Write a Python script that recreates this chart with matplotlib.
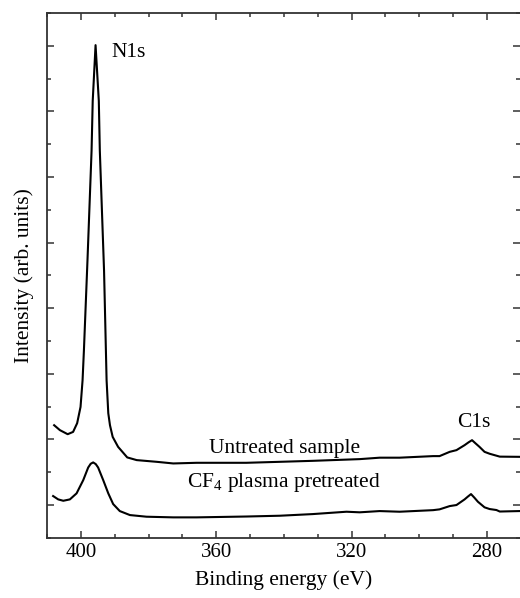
import numpy as np
from matplotlib import pyplot as plt
from matplotlib.ticker import MultipleLocator

plt.rcParams['font.family'] = ['Liberation Serif', 'DejaVu Serif']
plt.rcParams['mathtext.fontset'] = 'custom'
plt.rcParams['mathtext.rm'] = 'Liberation Serif'

# XPS survey spectra (binding energy in eV, intensity in arb. units)
untreatedEnergy = [407.9, 406.2, 403.9, 402.3, 401.1, 400.1, 399.5, 399.1, 398.05, 396.84, 396.5, 395.66,
                   394.7, 394.4, 393.15, 392.4, 391.9, 391.4, 390.6, 389.0, 386.3, 383.5, 377.6, 372.7,
                   365.8, 351.1, 341.2, 331.5, 317.6, 311.7, 305.8, 295.9, 294.0, 291.0, 289.0, 286.6,
                   285.4, 284.4, 283.4, 282.2, 280.7, 279.2, 276.2, 270.4]
untreatedIntensity = [1.715, 1.64, 1.578, 1.613, 1.746, 1.994, 2.40, 2.857, 4.227, 5.9, 6.66, 7.51,
                      6.66, 5.9, 4.07, 2.40, 1.898, 1.715, 1.537, 1.385, 1.224, 1.183, 1.157, 1.132,
                      1.142, 1.142, 1.157, 1.172, 1.198, 1.22, 1.22, 1.244, 1.244, 1.309, 1.335, 1.411,
                      1.455, 1.487, 1.44, 1.385, 1.309, 1.28, 1.236, 1.233]

treatedEnergy = [408.2, 406.7, 405.2, 403.25, 401.27, 399.3, 397.84, 397.1, 396.37, 395.6, 394.9,
                 393.4, 391.9, 390.46, 388.5, 385.5, 380.6, 372.7, 365.8, 351.1, 341.2, 331.5, 321.5,
                 317.6, 311.7, 305.8, 295.9, 294.0, 291.0, 289.0, 286.6, 285.6, 284.7, 283.7, 282.66,
                 280.7, 279.2, 277.2, 276.2, 270.4]
treatedIntensity = [0.635, 0.584, 0.563, 0.584, 0.676, 0.878, 1.07, 1.127, 1.148, 1.122, 1.07,
                    0.878, 0.676, 0.513, 0.406, 0.345, 0.32, 0.31, 0.31, 0.323, 0.335, 0.36, 0.396,
                    0.387, 0.406, 0.396, 0.42, 0.432, 0.482, 0.498, 0.584, 0.628, 0.665, 0.61, 0.548,
                    0.463, 0.437, 0.422, 0.399, 0.406]

xTicks = [400, 360, 320, 280]

fig = plt.figure(figsize=(5.2, 5.98), dpi=100)
ax = fig.add_axes([46.7/520, 60.3/598, 1.0 - 46.7/520 - 0.0005, 524.7/598])

ax.plot(untreatedEnergy, untreatedIntensity, color='black', lw=1.5)
ax.plot(treatedEnergy, treatedIntensity, color='black', lw=1.5)

ax.text(390.9, 7.40, 'N1s', fontsize=15.5, va='center', ha='left')
ax.text(284.0, 1.69, 'C1s', fontsize=15.5, va='baseline', ha='center')
ax.text(339.8, 1.294, 'Untreated sample', fontsize=15.5, va='baseline', ha='center')
ax.text(340.0, 0.776, r'CF$_\mathregular{4}$ plasma pretreated', fontsize=15.5, va='baseline', ha='center')

ax.set_xlim(410.1, 270.3)
ax.set_ylim(0, 8)
ax.set_xticks(xTicks)
ax.xaxis.set_minor_locator(MultipleLocator(10))
ax.set_yticks(np.arange(0.5, 8, 1.0))
ax.yaxis.set_minor_locator(MultipleLocator(1.0))
ax.set_yticklabels([])

ax.tick_params(which='both', direction='in', top=True, right=True, width=1.1, color='#333333')
ax.tick_params(which='major', length=5, labelsize=15, pad=4)
ax.tick_params(which='minor', length=3)
for side in ['left', 'top', 'bottom']:
    ax.spines[side].set_linewidth(1.3)
    ax.spines[side].set_color('#333333')
ax.spines['right'].set_visible(False)

ax.set_xlabel('Binding energy (eV)', fontsize=15.5, labelpad=6)
ax.set_ylabel('Intensity (arb. units)', fontsize=15.5)
ax.yaxis.set_label_coords(-0.027, 0.5)

plt.savefig('out.png', dpi=100)
plt.close('all')
